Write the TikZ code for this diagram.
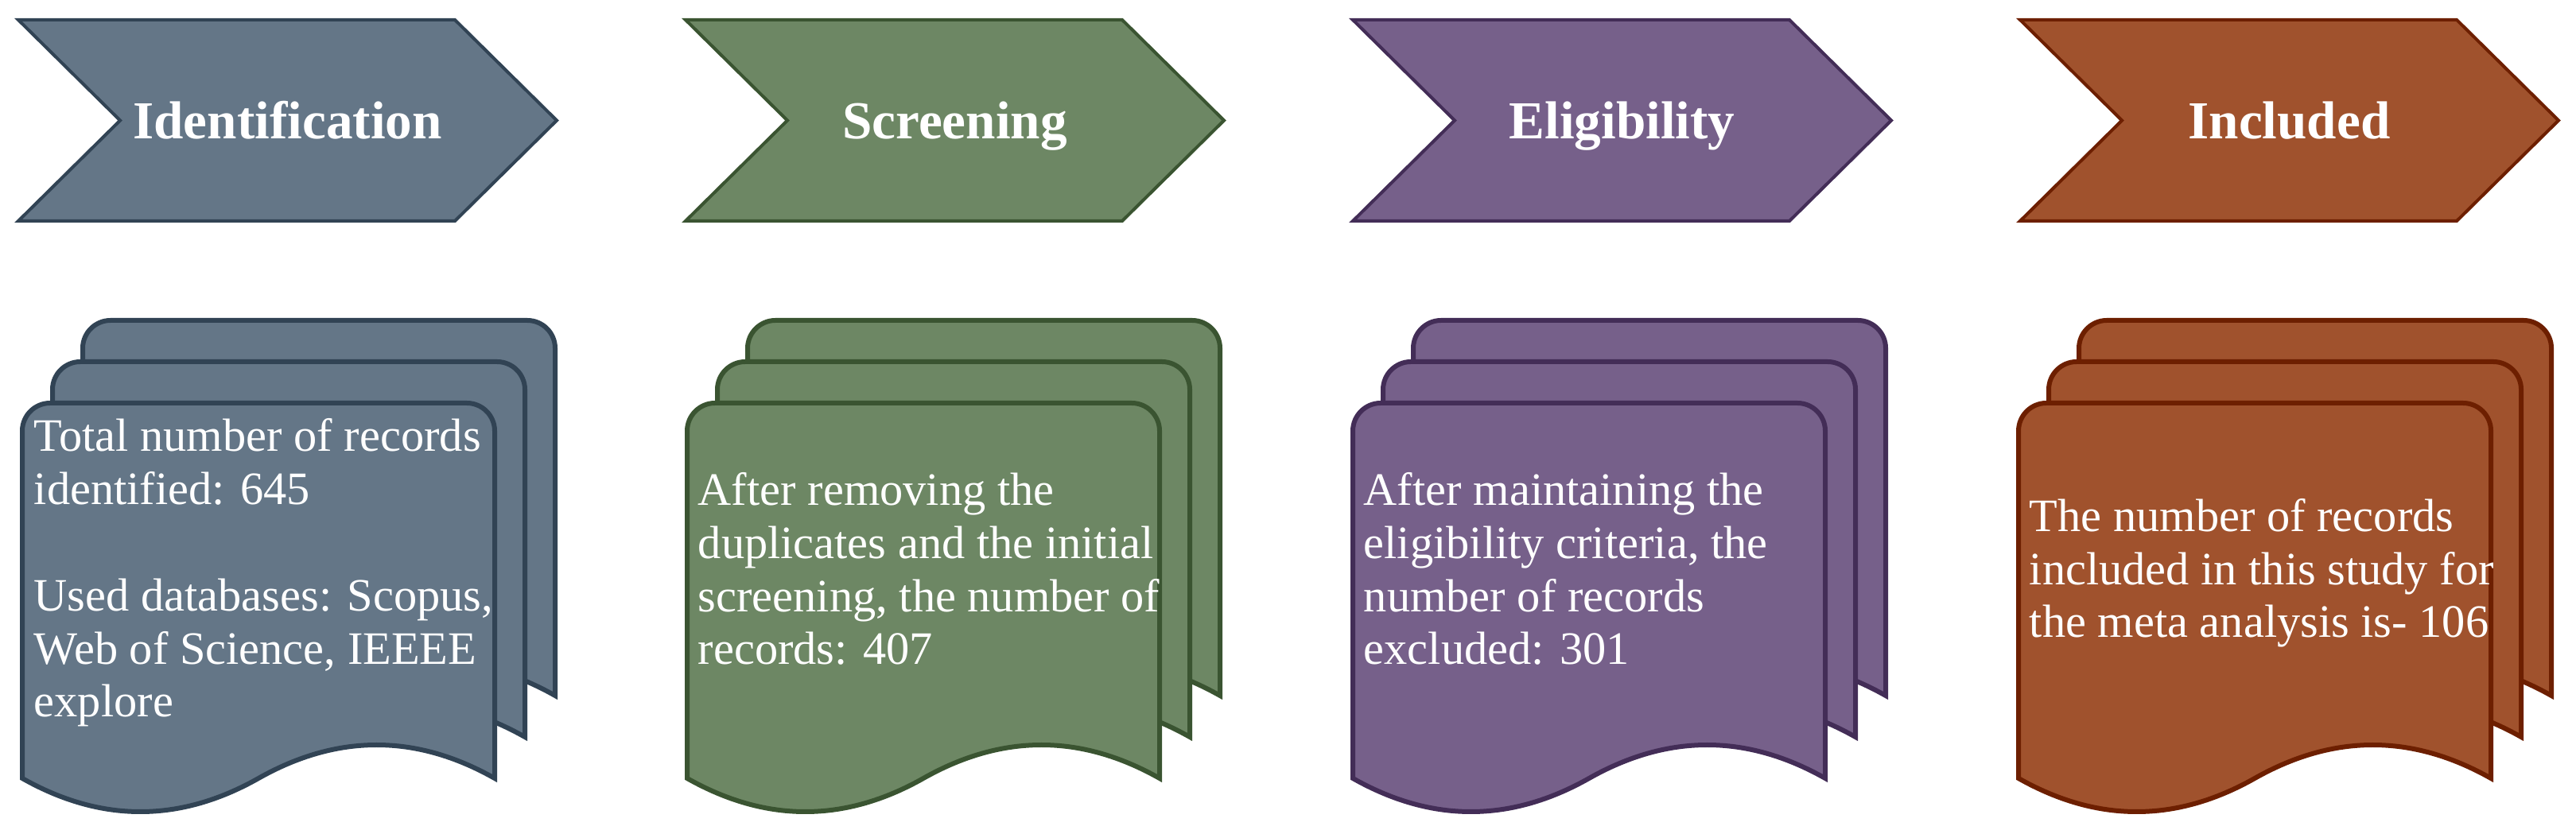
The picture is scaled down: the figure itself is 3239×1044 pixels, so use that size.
\documentclass[tikz,border=0pt]{standalone}
\usepackage{fontspec}
\setmainfont{Liberation Serif}
\definecolor{slateF}{HTML}{647687}
\definecolor{slateD}{HTML}{314354}
\definecolor{greenF}{HTML}{6D8764}
\definecolor{greenD}{HTML}{3A5431}
\definecolor{purpF}{HTML}{76608A}
\definecolor{purpD}{HTML}{432D57}
\definecolor{brownF}{HTML}{A0522D}
\definecolor{brownD}{HTML}{6D1F00}
\tikzset{
  chev/.style={line width=1pt, line join=miter},
  sheetstyle/.style={line width=1.5pt, line join=miter},
  titletext/.style={inner sep=0pt, anchor=base, text=white, font=\fontsize{16.8pt}{19pt}\selectfont\bfseries},
  bodytext/.style={inner sep=0pt, anchor=base west, align=left, text=white, font=\fontsize{14.6pt}{16.7pt}\selectfont},
}
% chevron: #1 = left x, #2 = name, #3 = fill, #4 = draw, #5 = title
\newcommand\chevronshape[5]{%
  \draw[chev, fill=#3, draw=#4] (#1,25) -- (#1+549,25) -- (#1+677,151.5) -- (#1+549,278) -- (#1,278) -- (#1+128,151.5) -- cycle;
  \node[titletext] (#2) at (#1+338.5,175) {#5};
}
% sheet: #1 = L, #2 = T, #3 = Y (wave ends), #4 = fill, #5 = draw ; width 594
\newcommand\sheetshape[5]{%
  \draw[sheetstyle, fill=#4, draw=#5]
    (#1,#3) -- (#1,#2+35) .. controls (#1,#2+15.7) and (#1+15.7,#2) .. (#1+35,#2)
    -- (#1+559,#2) .. controls (#1+578.3,#2) and (#1+594,#2+15.7) .. (#1+594,#2+35)
    -- (#1+594,#3) .. controls (#1+495,#3-56) and (#1+396,#3-56) .. (#1+297,#3)
    .. controls (#1+198,#3+56) and (#1+99,#3+56) .. (#1,#3) -- cycle;
}
\newcommand\stackshape[3]{%
  \sheetshape{#1+76}{403}{875}{#2}{#3}
  \sheetshape{#1+38}{455}{927}{#2}{#3}
  \sheetshape{#1}{507}{979}{#2}{#3}
}
\begin{document}
\begin{tikzpicture}[x=0.25pt, y=-0.25pt]
\useasboundingbox (0,0) rectangle (3239,1044);

\chevronshape{23}{t1}{slateF}{slateD}{Identification}
\chevronshape{862}{t2}{greenF}{greenD}{Screening}
\chevronshape{1701}{t3}{purpF}{purpD}{Eligibility}
\chevronshape{2540}{t4}{brownF}{brownD}{Included}

\stackshape{28}{slateF}{slateD}
\stackshape{864}{greenF}{greenD}
\stackshape{1701}{purpF}{purpD}
\stackshape{2538}{brownF}{brownD}

% anchor "base west" of a multi-line node is the baseline of its last line
\node[bodytext] (d1) at (42,902) {Total number of records\\identified: 645\\[16.7pt]Used databases: Scopus,\\Web of Science, IEEEE\\explore};
\node[bodytext] (d2) at (877,836) {After removing the\\duplicates and the initial\\screening, the number of\\records: 407};
\node[bodytext] (d3) at (1714,836) {After maintaining the\\eligibility criteria, the\\number of records\\excluded: 301};
\node[bodytext] (d4) at (2551,802) {The number of records\\included in this study for\\the meta analysis is- 106};
\end{tikzpicture}
\end{document}
